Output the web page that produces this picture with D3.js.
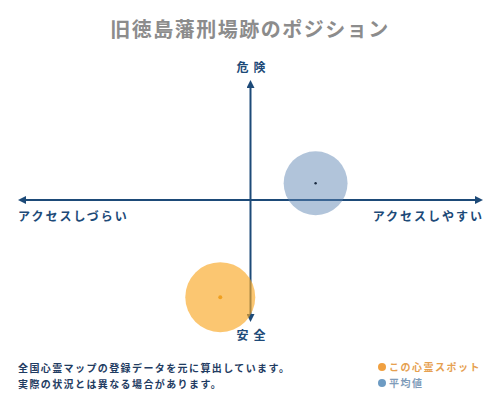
<!DOCTYPE html>
<html><head><meta charset="utf-8">
<script src="https://cdn.jsdelivr.net/npm/d3@7"></script>
<style>
html,body{margin:0;padding:0;background:#fff;}
text{font-family:"Noto Sans CJK JP","Noto Sans",sans-serif;}
</style></head>
<body><svg id="c" width="500" height="400"></svg>
<script>
const title = "旧徳島藩刑場跡のポジション";
const axisLabels = {top:"危険", bottom:"安全", left:"アクセスしづらい", right:"アクセスしやすい"};
const seriesNames = ["この心霊スポット","平均値"];
const xValues = [-13, 28];     // access (−: hard, +: easy)
const yValues = [-81, 14];     // danger (−: safe, +: danger)
const sizeValues = [1.2, 1.0];
const notes = ["全国心霊マップの登録データを元に算出しています。","実際の状況とは異なる場合があります。"];

const fills = ["#f9a825","#5b84b1"];
const dotColors = ["#f0a020","#1a2a40"];
const navy = "#1d4a78";

const svg = d3.select("#c");
const x = d3.scaleLinear().domain([-100,100]).range([18,483]);
const y = d3.scaleLinear().domain([-100,100]).range([320,80]);
const r = d3.scaleSqrt().domain([0,1.2]).range([0,35]);

svg.append("text").attr("x",250).attr("y",37).attr("text-anchor","middle")
  .attr("font-size",20).attr("font-weight","bold").attr("fill","#8c8c8c").attr("letter-spacing",1.5).text(title);

const defs = svg.append("defs");
defs.append("marker").attr("id","ah").attr("viewBox","0 0 10 10").attr("refX",5).attr("refY",5)
  .attr("markerWidth",4).attr("markerHeight",4).attr("orient","auto-start-reverse")
  .append("path").attr("d","M0,0 L10,5 L0,10 z").attr("fill",navy);

svg.append("line").attr("x1",x(-100)+4).attr("x2",x(100)-4).attr("y1",y(0)).attr("y2",y(0))
  .attr("stroke",navy).attr("stroke-width",2)
  .attr("marker-start","url(#ah)").attr("marker-end","url(#ah)");
svg.append("line").attr("x1",x(0)).attr("x2",x(0)).attr("y1",y(100)+4).attr("y2",y(-100)-2)
  .attr("stroke",navy).attr("stroke-width",2)
  .attr("marker-start","url(#ah)").attr("marker-end","url(#ah)");

const lab = (t,xx,yy,anchor,ls)=>svg.append("text").attr("x",xx).attr("y",yy).attr("text-anchor",anchor)
  .attr("font-size",12).attr("font-weight","bold").attr("fill",navy).attr("letter-spacing",ls).text(t);
lab(axisLabels.top, x(0)+3, 72, "middle", 5);
lab(axisLabels.bottom, x(0)+3, 340, "middle", 5);
lab(axisLabels.left, x(-100), 221, "start", 2);
lab(axisLabels.right, x(100)+1, 221, "end", 2);

const pts = xValues.map((v,i)=>({x:v,y:yValues[i],s:sizeValues[i],i}));
svg.selectAll("circle.b").data(pts).join("circle").attr("class","b")
  .attr("cx",d=>x(d.x)).attr("cy",d=>y(d.y)).attr("r",d=>r(d.s))
  .attr("fill",d=>fills[d.i]).attr("fill-opacity",d=>d.i===0?0.65:0.48);
svg.selectAll("circle.d").data(pts).join("circle").attr("class","d")
  .attr("cx",d=>x(d.x)).attr("cy",d=>y(d.y)).attr("r",d=>d.i===0?2:1.2)
  .attr("fill",d=>dotColors[d.i]);

notes.forEach((t,i)=>svg.append("text").attr("x",18).attr("y",372+i*16)
  .attr("font-size",10).attr("font-weight","bold").attr("fill","#1f3c62").attr("letter-spacing",1.4).text(t));

const legCol = ["#f0a040","#6d9bc3"];
const legTxt = ["#e6a050","#7f9cba"];
seriesNames.forEach((n,i)=>{
  svg.append("circle").attr("cx",382).attr("cy",367+i*16).attr("r",4).attr("fill",legCol[i]);
  svg.append("text").attr("x",389).attr("y",371+i*16).attr("font-size",10).attr("font-weight","bold")
    .attr("fill",legTxt[i]).attr("letter-spacing",1.5).text(n);
});
</script></body></html>
